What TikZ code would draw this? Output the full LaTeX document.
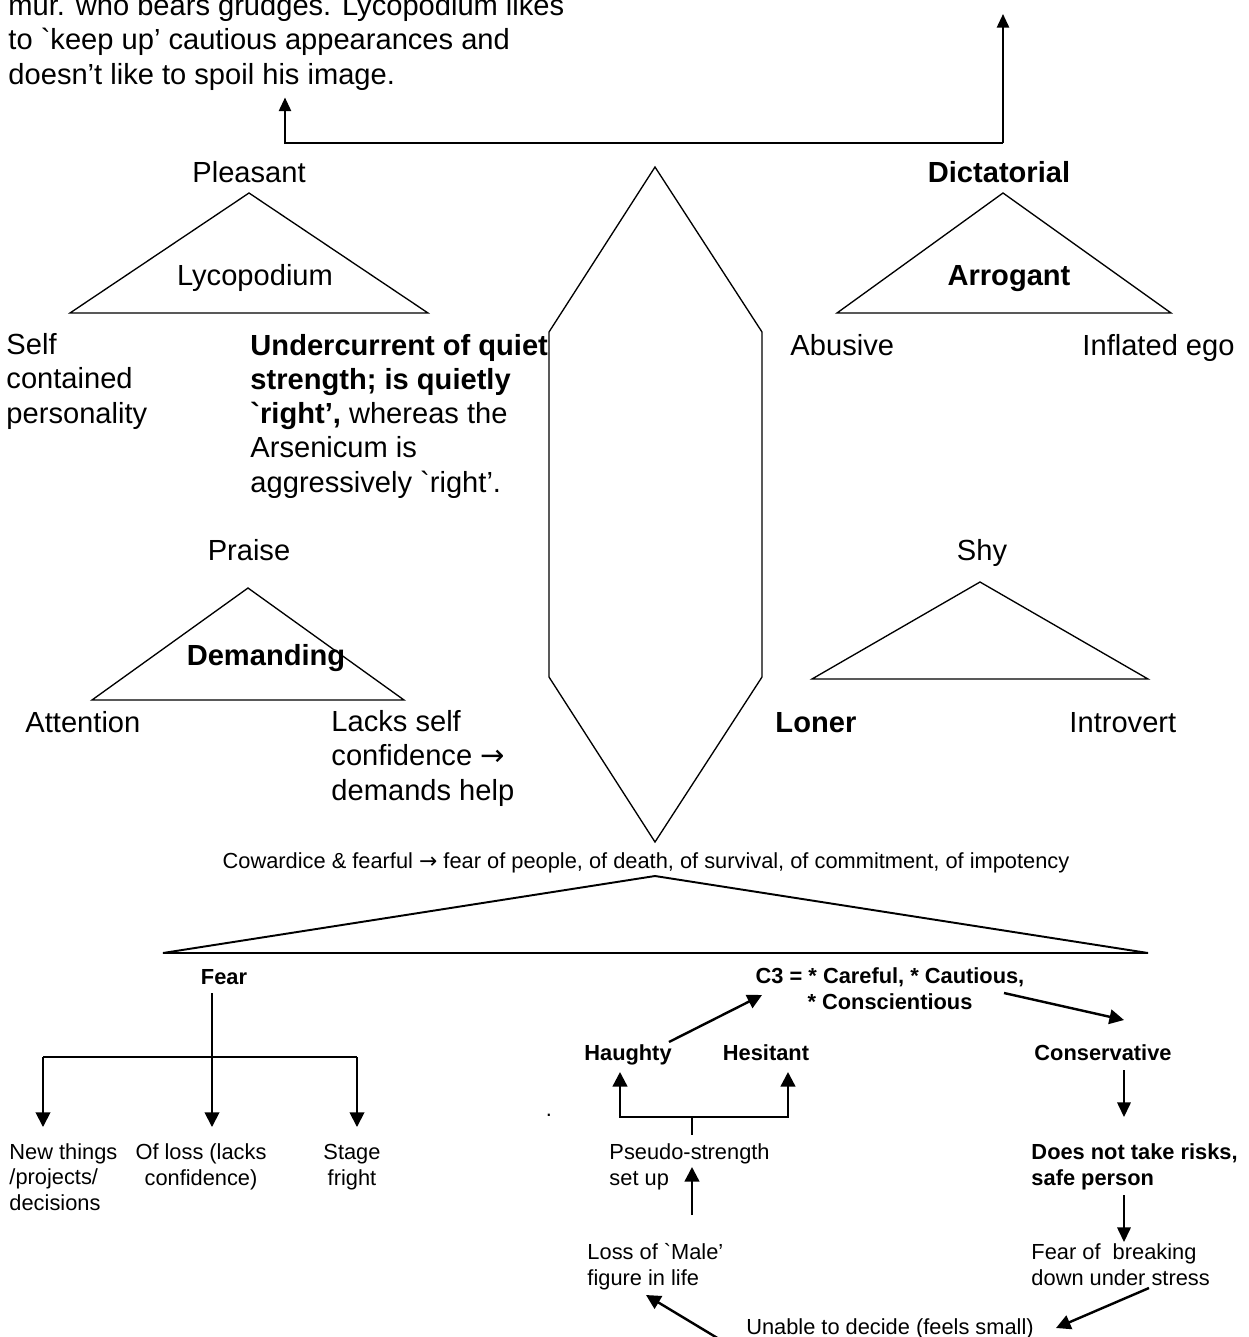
\documentclass[tikz,border=0pt]{standalone}
\usepackage{fontspec}
\newfontfamily\arialfont{Liberation Sans}
\newfontfamily\symfont{DejaVu Sans}
\usetikzlibrary{arrows.meta,calc}

\newcommand{\rarr}{{\symfont →}}

\tikzset{
  bigtxt/.style={font=\arialfont\fontsize{12}{14.1}\selectfont, inner sep=0pt, align=left},
  bigbold/.style={bigtxt, font=\arialfont\bfseries\fontsize{12}{14.1}\selectfont},
  smtxt/.style={font=\arialfont\fontsize{9}{10.35}\selectfont, inner sep=0pt, align=left},
  smbold/.style={smtxt, font=\arialfont\bfseries\fontsize{9}{10.35}\selectfont},
  tri/.style={draw, line width=0.55pt},
  link/.style={line width=0.85pt, -{Triangle[length=5.6pt,width=5pt]}},
  treeline/.style={line width=0.75pt},
  flow/.style={line width=0.75pt, -{Triangle[length=6pt,width=6pt]}},
  boldline/.style={line width=1pt},
  boldarrow/.style={boldline, -{Triangle[length=6pt,width=6pt]}},
  downarrow/.style={line width=0.6pt, -{Triangle[length=6pt,width=5.6pt]}}
}

\begin{document}
\begin{tikzpicture}[x=0.0145cm, y=-0.0145cm]
\useasboundingbox (0,0) rectangle (1249,1337);

% note at the top, partly cut off
\node[bigtxt, anchor=base west] (note) at (8,84) {mur. who bears grudges. Lycopodium likes\\to `keep up’ cautious appearances and\\doesn’t like to spoil his image.};
\coordinate (jL) at (285,143);
\coordinate (jR) at (1003,143);
\coordinate (tipR) at (1003,14);
\draw[link] (jR) -- (jL) -- ($(jL |- note.south)+(0,7)$);
\draw[link] (jR) -- (tipR);

% left upper triangle
\node[bigtxt, anchor=base] (pleasant) at (249,182) {Pleasant};
\draw[tri] (249,193) -- (428,313) -- (70,313) -- cycle;
\node[bigtxt, anchor=base] (lyco) at (255,285) {Lycopodium};
\node[bigtxt, anchor=base west] (self) at (6,423) {Self\\contained\\personality};
\node[bigtxt, anchor=base west] (under) at (250,492) {\textbf{Undercurrent of quiet}\\\textbf{strength; is quietly}\\\textbf{`right’,} whereas the\\Arsenicum is\\aggressively `right’.};

% middle hexagon
\draw[tri] (655,167) -- (762,332) -- (762,677) -- (655,842) -- (549,677) -- (549,332) -- cycle;

% right upper triangle
\node[bigbold, anchor=base] (dict) at (999,182) {Dictatorial};
\draw[tri] (1003,193) -- (1171,313) -- (837,313) -- cycle;
\node[bigbold, anchor=base] (arrog) at (1009,285) {Arrogant};
\node[bigtxt, anchor=base west] (abus) at (790,355) {Abusive};
\node[bigtxt, anchor=base west] (infl) at (1082,355) {Inflated ego};

% left lower triangle
\node[bigtxt, anchor=base] (praise) at (249,560) {Praise};
\node[bigbold, anchor=base] (demand) at (266,665) {Demanding};
\draw[tri] (248,588) -- (404,700) -- (92,700) -- cycle;
\node[bigtxt, anchor=base west] (attn) at (25,732) {Attention};
\node[bigtxt, anchor=base west] (lacks) at (331,800) {Lacks self\\confidence \rarr\\demands help};

% right lower triangle
\node[bigtxt, anchor=base] (shy) at (982,560) {Shy};
\draw[tri] (980,582) -- (1148,679) -- (812,679) -- cycle;
\node[bigbold, anchor=base west] (loner) at (775,732) {Loner};
\node[bigtxt, anchor=base west] (intro) at (1069,732) {Introvert};

% wide triangle
\node[smtxt, anchor=base] (coward) at (646,868) {Cowardice \& fearful \rarr\ fear of people, of death, of survival, of commitment, of impotency};
\draw[line width=0.8pt] (655,876) -- (1148,953) -- (163,953) -- cycle;

% fear branch
\node[smbold, anchor=base] (fear) at (224,984) {Fear};
\node[smtxt, anchor=base west] (newth) at (9,1210) {New things\\/projects/\\decisions};
\node[smtxt, anchor=base, align=center] (lossof) at (201,1185) {Of loss (lacks\\confidence)};
\node[smtxt, anchor=base, align=center] (stage) at (352,1185) {Stage\\fright};
\coordinate (fearstem) at ($(fear.base)+(-12,9)$);
\coordinate (barL) at (43,1057);
\coordinate (barR) at (357,1057);
\draw[treeline] (barL) -- (barR);
\draw[flow] (fearstem) -- (fearstem |- 0,1127);
\draw[flow] (barL) -- (barL |- 0,1127);
\draw[flow] (barR) -- (barR |- 0,1127);

% C3 cycle
\node[smbold, anchor=base, align=center] (c3) at (890,1009) {C3 = * Careful, * Cautious,\\* Conscientious};
\node[smbold, anchor=base] (haughty) at (628,1060) {Haughty};
\node[smbold, anchor=base] (hesit) at (766,1060) {Hesitant};
\node[smbold, anchor=base] (conserv) at (1103,1060) {Conservative};
\node[smtxt, anchor=base west] (pseudo) at (609,1185) {Pseudo-strength\\set up};
\node[smbold, anchor=base west] (risk) at (1031,1185) {Does not take risks,\\safe person};
\node[smtxt, anchor=base west] (lossmale) at (587,1285) {Loss of `Male’\\figure in life};
\node[smtxt, anchor=base west] (breakdown) at (1031,1285) {Fear of\ \ breaking\\down under stress};
\node[smtxt, anchor=base] (unable) at (890,1334) {Unable to decide (feels small)};
\node[smtxt, anchor=base] (dot) at (549,1116) {.};

\draw[boldarrow] ($(haughty.base)+(41,-18)$) -- ($(c3.base)+(-128,-14)$);
\draw[boldarrow] ($(c3.base)+(114,-16)$) -- ($(conserv.base)+(21,-40)$);
\coordinate (fork) at ($(pseudo.base west)+(83,-68)$);
\draw[boldline] (fork) -- ++(0,18);
\draw[boldarrow] (fork) -| ($(haughty.base)+(-8,12)$);
\draw[boldarrow] (fork) -| ($(hesit.base)+(22,12)$);
\draw[downarrow] ($(conserv.base)+(21,10)$) -- ($(risk.base west)+(93,-68)$);
\draw[downarrow] ($(risk.base west)+(93,10)$) -- ($(breakdown.base west)+(93,-43)$);
\draw[boldarrow] ($(lossmale.base west)+(105,-70)$) -- ($(pseudo.base west)+(83,-18)$);
\draw[boldarrow] ($(breakdown.base west)+(118,3)$) -- ($(unable.base)+(166,-6)$);
\draw[boldarrow] ($(unable.base)+(-161,11)$) -- ($(lossmale.base west)+(59,10)$);
\end{tikzpicture}
\end{document}
